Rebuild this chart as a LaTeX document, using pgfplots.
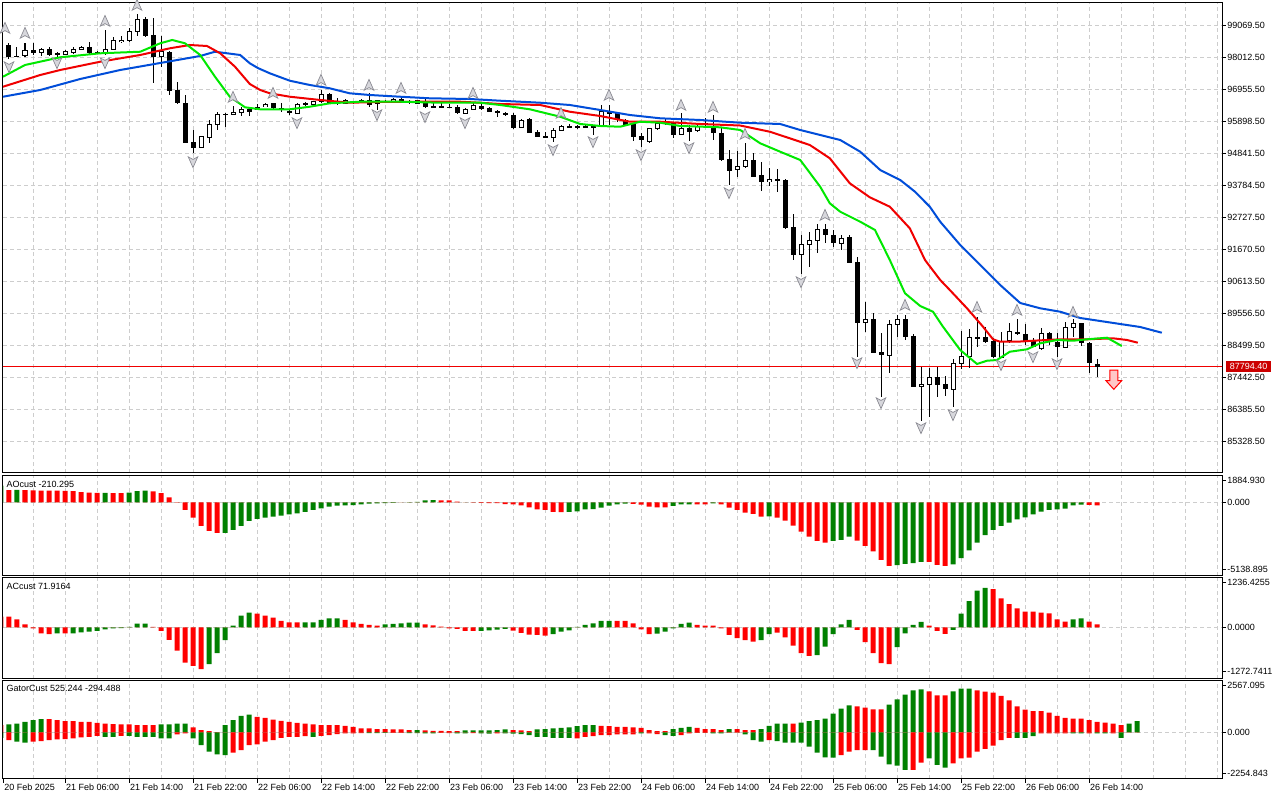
\documentclass[border=0pt]{standalone}
\usepackage{fontspec}
\setmainfont{Liberation Sans}
\usepackage{pgfplots}
\pgfplotsset{compat=1.18}
\usepackage{pgfplotstable}

\definecolor{mtgreen}{RGB}{0,128,0}
\definecolor{mtred}{RGB}{255,0,0}
\definecolor{jaw}{RGB}{0,77,217}
\definecolor{teeth}{RGB}{240,0,0}
\definecolor{lips}{RGB}{0,232,0}
\definecolor{gridc}{RGB}{205,205,205}
\definecolor{pricebox}{RGB}{204,0,0}
\definecolor{fractfill}{RGB}{215,215,220}
\definecolor{fractdraw}{RGB}{140,140,148}
\newcommand\tl{\fontsize{4.5pt}{5pt}\selectfont}

\pgfdeclareplotmark{fup}{%
 \pgfpathmoveto{\pgfpoint{0pt}{2.8pt}}%
 \pgfpathlineto{\pgfpoint{2.4pt}{-2.6pt}}%
 \pgfpathlineto{\pgfpoint{0pt}{-1.3pt}}%
 \pgfpathlineto{\pgfpoint{-2.4pt}{-2.6pt}}%
 \pgfpathclose\pgfusepathqfillstroke}
\pgfdeclareplotmark{fdown}{%
 \pgfpathmoveto{\pgfpoint{0pt}{-2.8pt}}%
 \pgfpathlineto{\pgfpoint{2.4pt}{2.6pt}}%
 \pgfpathlineto{\pgfpoint{0pt}{1.3pt}}%
 \pgfpathlineto{\pgfpoint{-2.4pt}{2.6pt}}%
 \pgfpathclose\pgfusepathqfillstroke}
\pgfdeclareplotmark{bigdown}{%
 \pgfpathmoveto{\pgfpoint{-2pt}{5pt}}%
 \pgfpathlineto{\pgfpoint{2pt}{5pt}}%
 \pgfpathlineto{\pgfpoint{2pt}{-0.35pt}}%
 \pgfpathlineto{\pgfpoint{3.9pt}{-0.35pt}}%
 \pgfpathlineto{\pgfpoint{0pt}{-4.65pt}}%
 \pgfpathlineto{\pgfpoint{-3.9pt}{-0.35pt}}%
 \pgfpathlineto{\pgfpoint{-2pt}{-0.35pt}}%
 \pgfpathclose\pgfusepathqfillstroke}

\pgfplotstableread{
i o h l c
0 98409 98574 98079 98178
1 98409 98475 97947 98023
2 98062 98343 98013 98030
4 98244 98475 98079 98155
6 98277 98353 98046 98079
7 98145 98188 98023 98079
11 98333 98518 98079 98135
12 98188 98211 98112 98135
18 99267 99343 98683 98716
19 98739 99290 97145 98023
21 98188 98211 96759 96901
22 96924 97198 96470 96485
23 96485 96759 95165 95185
24 95218 95604 94835 95000
31 96287 96373 96066 96208
34 96485 96505 96264 96320
35 96320 96485 96208 96264
36 96241 96287 96099 96155
38 96485 96528 96396 96429
41 96792 96825 96485 96505
42 96538 96650 96429 96485
44 96538 96571 96462 96505
46 96594 96815 96373 96429
48 96571 96594 96485 96528
50 96617 96650 96485 96538
51 96571 96594 96462 96505
53 96571 96617 96320 96373
54 96396 96485 96320 96353
55 96379 96485 96320 96363
56 96373 96462 96320 96353
57 96373 96429 96132 96155
60 96396 96462 96264 96287
61 96340 96373 96188 96208
62 96241 96264 96023 96155
63 96175 96208 96066 96099
64 96099 96155 95637 95660
66 95957 95990 95495 95515
67 95548 95604 95363 95383
68 95396 95548 95363 95383
72 95736 95769 95637 95660
73 95726 95769 95693 95713
74 95726 95746 95439 95713
76 96208 96429 95769 96155
77 96155 96208 95878 95934
78 95934 95967 95746 95769
79 95802 95825 95251 95383
80 95406 95495 95053 95274
84 95825 95878 95330 95439
86 95660 95769 95241 95548
89 95660 96099 95274 95515
90 95495 95713 94597 94614
91 94637 94944 93789 94261
94 94614 94835 94053 94063
95 94119 94558 93601 93898
97 93977 94307 93568 93931
98 93954 93977 92354 92360
99 92393 92832 91314 91479
103 92337 92502 91885 92139
104 92139 92304 91753 91865
106 92063 92139 91205 91225
107 91258 91423 88123 89245
109 89357 89555 88235 88255
110 88278 88895 86803 88169
113 89357 89499 88674 88783
114 88806 88872 87113 87133
117 87443 87794 86783 87189
118 87222 87486 86826 87047
123 88763 89113 88565 88618
124 88651 88730 88070 88103
127 88948 89357 88839 88862
128 88872 89202 88509 88651
129 88674 88730 88433 88453
131 88895 88948 88509 88674
132 88618 88895 88123 88433
135 89225 89245 88476 88565
136 88585 88618 87574 87905
137 87882 88037 87443 87794
}\bear

\pgfplotstableread{
i o h l c
3 98079 98475 98023 98244
5 98155 98300 98046 98267
8 98102 98244 98079 98188
9 98155 98353 98102 98267
10 98267 98376 98244 98333
13 98135 98904 98079 98267
14 98267 98663 98244 98574
15 98518 98706 98465 98574
16 98574 98960 98518 98848
17 98848 99432 98706 99267
20 98046 98706 97693 98188
25 95020 95406 95000 95383
26 95363 95934 95185 95792
27 95792 96208 95604 96132
28 96115 96155 95713 96132
29 96122 96396 96099 96198
30 96188 96373 96066 96297
32 96287 96462 96264 96353
33 96373 96485 96353 96452
37 96155 96485 96132 96462
39 96462 96571 96429 96538
40 96538 96924 96485 96792
43 96485 96627 96462 96571
45 96505 96627 96485 96594
47 96485 96594 96264 96571
49 96538 96650 96505 96617
52 96485 96594 96462 96571
58 96155 96330 96132 96287
59 96287 96505 96264 96429
65 95693 95957 95660 95934
69 95363 95660 95218 95604
70 95604 95769 95581 95713
71 95703 95802 95693 95713
75 95713 96429 95700 96208
81 95218 95680 95185 95660
82 95660 95878 95604 95825
83 95825 95990 95769 95878
85 95472 96155 95439 95660
87 95581 95802 95548 95713
88 95786 95990 95736 95819
92 94307 94921 94063 94416
93 94393 95165 94340 94614
96 93898 94340 93766 93977
100 91512 92139 90852 91842
101 91842 92248 91093 91974
102 91974 92502 91535 92327
105 91865 92139 91644 92030
108 89245 89938 88948 89357
111 88169 89334 87574 89202
112 89202 89499 88783 89357
115 87133 87783 86011 87222
116 87222 87750 86143 87443
119 87047 88037 86453 87905
120 87905 88981 87707 88146
121 88146 89037 87750 88763
122 88750 89443 88453 88763
125 88103 88948 88070 88641
126 88651 89225 88565 88948
130 88400 89060 88344 88895
133 88433 89278 88400 89093
134 89093 89357 88783 89225
}\bull

\pgfplotstableread{
i p
0.25 96703
4.9 96925
9.9 97288
14.9 97585
19.9 97816
24.9 98047
26.75 98188
29.9 98080
31.1 97806
32.1 97651
33.6 97476
36.1 97231
38.6 97090
41.1 96981
43.6 96816
46.1 96760
49.9 96703
53.6 96651
58.6 96628
62.4 96571
67.4 96505
71.1 96430
74.9 96265
78.6 96100
82.4 95991
87.4 95935
92.4 95845
97.4 95803
99.9 95605
102.4 95440
104.9 95275
107.4 94888
109.9 94285
112.4 93955
114.25 93568
116.1 93073
117.4 92578
119.9 91810
122.4 91150
124.9 90490
127.4 89896
129.9 89721
132.4 89608
134.9 89401
137.4 89302
139.9 89203
142.4 89104
145.1 88915
}\jawtab

\pgfplotstableread{
i p
0.25 97033
4.9 97420
7.4 97585
12.4 97858
17.4 98080
21.1 98301
23.6 98410
25.75 98377
27.4 98136
29.25 97693
31.1 97123
32.4 96925
33.6 96816
36.1 96703
39.9 96595
43.6 96505
47.4 96529
52.4 96538
57.4 96538
59.9 96505
62.4 96463
67.4 96430
71.1 96208
74.9 96067
78.6 95878
82.4 95878
87.4 95803
92.4 95753
96.1 95548
98.6 95331
101.1 95110
103.6 94671
106.1 93846
108.6 93384
111.1 93073
113.6 92361
115.5 91315
117.4 90655
118.6 90325
120.75 89721
122.75 89113
124 88698
124.9 88618
127 88618
129 88651
132.4 88698
135.75 88698
139 88731
140.75 88675
142.1 88585
}\teethtab

\pgfplotstableread{
i p
0.25 97363
3 97750
7.4 98004
12.4 98136
17.4 98188
19.9 98466
21.4 98575
23 98466
24.9 98080
26.75 97363
28.6 96703
30.5 96354
32.4 96288
36.1 96288
38.6 96373
41.1 96486
44.9 96538
49.9 96538
54.9 96505
59.9 96505
62.4 96430
66.1 96288
69.9 96043
72.4 95803
74.9 95737
77.4 95713
79.9 95878
82.4 95845
84.9 95737
89.9 95694
92.4 95605
94.9 95166
97.4 94888
99.9 94615
102.4 93733
103.6 93186
104.9 92908
107.4 92578
109.25 92305
111.1 91315
113 90216
114.9 89797
116.5 89608
117.75 89113
119.9 88345
122 87883
123.25 87991
124.5 88015
126.1 88288
128.25 88368
129.9 88566
132 88675
134 88651
135.75 88698
138.25 88750
140.1 88477
}\lipstab

\pgfplotstableread{
i p
0.5 98970
3 98805
13 99201
17 99729
29 96693
34 96825
40 97254
46 97089
50 96990
59 96825
70 96165
76 96759
85 96429
89 96363
93 95472
103 92799
113 89829
122 89763
127 89664
134 89598
}\fractup

\pgfplotstableread{
i p
1 97683
7 97815
13 97815
24 94548
37 95835
47 96099
53 96033
58 95835
69 94944
74 95208
80 94779
86 95010
91 93525
100 90588
107 87915
110 86595
115 85770
119 86199
125 87849
129 88113
132 87882
}\fractdn

\pgfplotstableread{
i g r
0 1166 0
1 0 862
2 870 0
3 0 850
4 0 840
5 0 830
6 0 820
7 0 815
8 0 810
9 0 792
10 0 723
11 0 676
12 0 660
13 670 0
14 0 655
15 0 645
16 676 0
17 792 0
18 816 0
19 0 770
20 0 653
21 0 350
22 0 20
23 0 -536
24 0 -1072
25 0 -1655
26 0 -2005
27 0 -2145
28 -2140 0
29 -1935 0
30 -1655 0
31 -1306 0
32 -1166 0
33 -1072 0
34 -1003 0
35 -933 0
36 -839 0
37 -769 0
38 -676 0
39 -536 0
40 -420 0
41 -303 0
42 -233 0
43 -210 0
44 -187 0
45 -140 0
46 -93 0
47 -70 0
48 -47 0
49 -30 0
50 -10 0
51 10 0
52 40 0
53 140 0
54 150 0
55 0 140
56 0 130
57 0 50
58 0 -5
59 0 -20
60 0 -30
61 0 -50
62 0 -60
63 0 -120
64 0 -150
65 0 -210
66 0 -350
67 0 -490
68 0 -536
69 0 -676
70 0 -690
71 -676 0
72 -630 0
73 -490 0
74 -480 0
75 -373 0
76 -233 0
77 -140 0
78 -90 0
79 0 -110
80 0 -163
81 0 -303
82 0 -350
83 0 -360
84 -256 0
85 -140 0
86 -135 0
87 0 -140
88 0 -145
89 -70 0
90 0 -140
91 0 -373
92 0 -536
93 0 -723
94 0 -816
95 0 -1002
96 -990 0
97 0 -1072
98 0 -1282
99 0 -1632
100 0 -2052
101 0 -2402
102 0 -2705
103 0 -2821
104 -2705 0
105 -2635 0
106 -2402 0
107 0 -2682
108 0 -3055
109 0 -3452
110 0 -4035
111 0 -4455
112 -4410 0
113 -4317 0
114 -4270 0
115 -4177 0
116 0 -4180
117 0 -4386
118 0 -4456
119 -4363 0
120 -3920 0
121 -3382 0
122 -2822 0
123 -2310 0
124 -1935 0
125 -1655 0
126 -1422 0
127 -1189 0
128 -1049 0
129 -839 0
130 -653 0
131 -536 0
132 -490 0
133 -443 0
134 -210 0
135 -163 0
136 0 -180
137 0 -210
}\aotab

\pgfplotstableread{
i g r
0 0 264
1 0 264
2 0 198
3 0 74
4 0 -25
5 0 -149
6 0 -173
7 -149 0
8 0 -149
9 -149 0
10 -124 0
11 -107 0
12 -91 0
13 -50 0
14 -25 0
15 -20 0
16 8 0
17 91 0
18 91 0
19 0 8
20 0 -91
21 0 -314
22 0 -578
23 0 -880
24 0 -957
25 0 -1040
26 -916 0
27 -644 0
28 -322 0
29 41 0
30 289 0
31 363 0
32 0 338
33 0 289
34 0 239
35 0 157
36 0 124
37 0 124
38 124 0
39 124 0
40 182 0
41 223 0
42 223 0
43 0 182
44 0 124
45 0 83
46 0 58
47 0 41
48 74 0
49 83 0
50 99 0
51 116 0
52 116 0
53 0 74
54 0 50
55 0 17
56 0 -25
57 0 -41
58 0 -91
59 0 -91
60 -91 0
61 -75 0
62 -58 0
63 -41 0
64 0 -80
65 0 -140
66 0 -182
67 0 -190
68 0 -206
69 -173 0
70 -107 0
71 -74 0
72 8 0
73 58 0
74 99 0
75 157 0
76 157 0
77 0 157
78 0 157
79 0 99
80 0 -50
81 0 -173
82 -157 0
83 -107 0
84 -25 0
85 83 0
86 116 0
87 0 58
88 0 41
89 0 41
90 0 -25
91 0 -190
92 0 -272
93 0 -322
94 0 -355
95 -322 0
96 -173 0
97 0 -132
98 0 -248
99 0 -454
100 0 -644
101 0 -710
102 -693 0
103 -479 0
104 -173 0
105 74 0
106 182 0
107 0 -66
108 0 -371
109 0 -644
110 0 -891
111 0 -916
112 -495 0
113 -149 0
114 58 0
115 132 0
116 0 41
117 0 -91
118 0 -165
119 -66 0
120 338 0
121 652 0
122 908 0
123 982 0
124 0 949
125 0 718
126 0 578
127 0 470
128 0 388
129 0 388
130 0 363
131 0 347
132 0 198
133 0 140
134 198 0
135 223 0
136 0 140
137 0 72
}\actab

\pgfplotstableread{
i ug ur lg lr
0 0 357 -260 0
1 390 0 0 -373
2 438 0 -454 0
3 519 0 -503 0
4 600 0 0 -454
5 649 0 0 -422
6 0 649 0 -373
7 0 600 0 -341
8 0 552 0 -325
9 0 552 0 -292
10 0 519 0 -243
11 0 519 0 -211
12 0 471 0 -162
13 0 438 -211 0
14 0 406 -211 0
15 0 390 0 -162
16 0 390 -162 0
17 0 357 -211 0
18 0 357 -211 0
19 0 357 -211 0
20 390 0 -292 0
21 390 0 -292 0
22 438 0 0 -97
23 438 0 0 -49
24 0 243 -292 0
25 0 114 -617 0
26 0 65 -941 0
27 0 20 -1071 0
28 357 0 -1104 0
29 600 0 0 -990
30 811 0 0 -860
31 876 0 0 -617
32 0 763 0 -584
33 0 714 0 -454
34 0 633 0 -373
35 0 568 0 -260
36 0 519 0 -211
37 0 471 0 -211
38 0 438 0 -178
39 0 390 -211 0
40 0 357 0 -162
41 0 357 0 -130
42 0 357 0 -81
43 0 325 0 -49
44 0 276 0 -49
45 0 195 0 -30
46 0 195 -30 0
47 0 162 -30 0
48 0 162 -20 0
49 0 146 0 -20
50 0 146 0 -20
51 0 114 -30 0
52 114 0 -30 0
53 0 100 -40 0
54 0 81 -40 0
55 0 81 0 -20
56 0 65 0 -30
57 0 65 -40 0
58 97 0 -40 0
59 97 0 0 -30
60 97 0 -50 0
61 97 0 -60 0
62 114 0 0 -40
63 146 0 -49 0
64 0 114 -60 0
65 0 97 -80 0
66 0 65 -130 0
67 146 0 -211 0
68 162 0 -211 0
69 195 0 -260 0
70 227 0 -260 0
71 243 0 -260 0
72 308 0 0 -292
73 357 0 0 -211
74 357 0 0 -178
75 0 325 0 -130
76 0 308 0 -130
77 0 276 0 -97
78 0 276 0 -97
79 0 250 0 -97
80 0 227 -49 0
81 0 114 0 -49
82 0 65 0 -81
83 0 65 -130 0
84 162 0 -162 0
85 227 0 0 -130
86 276 0 0 -49
87 0 227 0 -16
88 0 162 0 -16
89 0 162 -49 0
90 0 114 -49 0
91 162 0 0 -10
92 0 162 0 -10
93 0 114 -97 0
94 0 114 -373 0
95 162 0 -454 0
96 325 0 0 -373
97 438 0 -422 0
98 438 0 -503 0
99 0 438 -503 0
100 487 0 -503 0
101 552 0 -698 0
102 600 0 -990 0
103 682 0 -1217 0
104 925 0 -1233 0
105 1169 0 0 -1104
106 1331 0 0 -941
107 0 1282 0 -860
108 0 1217 0 -860
109 0 1136 -860 0
110 0 1136 -1185 0
111 1363 0 -1558 0
112 1623 0 -1623 0
113 1850 0 -1834 0
114 2061 0 0 -1834
115 2110 0 0 -1477
116 0 2013 -1266 0
117 0 1818 -1590 0
118 0 1818 -1720 0
119 2013 0 0 -1509
120 2142 0 0 -1266
121 2142 0 0 -1233
122 0 2061 0 -941
123 0 2000 0 -800
124 0 1948 0 -649
125 0 1785 0 -373
126 0 1574 0 -260
127 0 1282 -260 0
128 0 1120 -260 0
129 0 1039 -178 0
130 0 1039 0 -49
131 0 974 0 -49
132 0 811 0 -49
133 0 714 0 -49
134 0 682 -49 0
135 0 682 -49 0
136 0 600 0 -49
137 0 519 -49 0
138 0 487 -49 0
139 0 438 0 -49
140 0 357 -260 0
141 438 0 0 0
142 552 0 0 0
}\gatortab

\pgfplotsset{
  mt/.style={
    scale only axis, width=609.5pt,
    xmin=0.25, xmax=152.625,
    axis line style={line width=0.5pt, black},
    xtick={4,8,...,152}, xticklabels={},
    xmajorgrids,
    major grid style={draw=gridc, line width=0.5pt, dash pattern=on 2pt off 1.5pt},
    tick align=outside,
    major tick length=2pt,
    xtick style={draw=none},
    ytick style={draw=black, line width=0.5pt},
    ytick pos=right, yticklabel pos=right,
    xtick pos=bottom,
    yticklabel style={anchor=west, inner xsep=0.5pt, inner ysep=0pt, font=\tl},
    xticklabel style={font=\tl},
    scaled y ticks=false,
  },
  wick/.style={draw=none, mark=none, forget plot,
    error bars/.cd, y dir=both, y explicit, error mark=none,
    error bar style={draw=black, line width=0.5pt, solid}},
  body/.style 2 args={draw=none, mark=none, forget plot,
    error bars/.cd, y dir=both, y explicit, error mark=none,
    error bar style={draw=#1, line width=#2, solid, line cap=butt}},
  gbar/.style={ybar, bar width=2.5pt, bar shift=0pt, draw=none, fill=#1, forget plot},
}

\begin{document}
\begin{tikzpicture}
\path[use as bounding box, fill=white] (0,0) rectangle (640pt,-400pt);

% ---------------- main price panel ----------------
\begin{axis}[mt, at={(1.5pt,-1.25pt)}, anchor=north west, height=235pt,
  ymin=84302, ymax=99812,
  ytick={85328.5,86385.5,87442.5,88499.5,89556.5,90613.5,91670.5,92727.5,93784.5,94841.5,95898.5,96955.5,98012.5,99069.5},
  yticklabels={85328.50,86385.50,87442.50,88499.50,89556.50,90613.50,91670.50,92727.50,93784.50,94841.50,95898.50,96955.50,98012.50,99069.50},
  ymajorgrids,
  extra y ticks={87794.4}, extra y tick labels={87794.40},
  extra y tick style={grid=none, ytick style={draw=none},
    yticklabel style={fill=pricebox, text=white, inner xsep=1.7pt, inner ysep=1pt}},
]
\addplot[teeth, line width=0.5pt, forget plot] coordinates {(0,87794.4) (153,87794.4)};
% wicks
\addplot[wick] table[x=i, y expr={(\thisrow{h}+\thisrow{l})/2}, y error expr={(\thisrow{h}-\thisrow{l})/2}] {\bear};
\addplot[wick] table[x=i, y expr={(\thisrow{h}+\thisrow{l})/2}, y error expr={(\thisrow{h}-\thisrow{l})/2}] {\bull};
% bodies
\addplot[body={black}{2.5pt}] table[x=i, y expr={(\thisrow{o}+\thisrow{c})/2}, y error expr={max(abs(\thisrow{o}-\thisrow{c})/2,16.5)}] {\bear};
\addplot[body={black}{2.5pt}] table[x=i, y expr={(\thisrow{o}+\thisrow{c})/2}, y error expr={max(abs(\thisrow{o}-\thisrow{c})/2,8)+16.5}] {\bull};
\addplot[body={white}{1.5pt}] table[x=i, y expr={(\thisrow{o}+\thisrow{c})/2}, y error expr={max(abs(\thisrow{o}-\thisrow{c})/2-16.5,0)}] {\bull};
% alligator
\addplot[jaw, line width=1pt, mark=none] table[x=i, y=p] {\jawtab};
\addplot[teeth, line width=1pt, mark=none] table[x=i, y=p] {\teethtab};
\addplot[lips, line width=1pt, mark=none] table[x=i, y=p] {\lipstab};
% fractals
\addplot[only marks, mark=fup, mark options={fill=fractfill, draw=fractdraw, line width=0.35pt}] table[x=i, y=p] {\fractup};
\addplot[only marks, mark=fdown, mark options={fill=fractfill, draw=fractdraw, line width=0.35pt}] table[x=i, y=p] {\fractdn};
% signal arrow
\addplot[only marks, mark=bigdown, mark options={fill=red!22, draw=red, line width=0.5pt}] coordinates {(139.1,87354)};
\end{axis}

% ---------------- AO ----------------
\begin{axis}[mt, at={(1.5pt,-237.75pt)}, anchor=north west, height=50pt,
  ymin=-5138.895, ymax=1884.93,
  ytick={0}, yticklabels={0.000}, ymajorgrids,
  extra y ticks={-4691,1507}, extra y tick labels={-5138.895,1884.930},
  extra y tick style={grid=none},
]
\addplot[gbar=mtgreen] table[x=i, y=g] {\aotab};
\addplot[gbar=mtred] table[x=i, y=r] {\aotab};
\node[anchor=west, inner sep=0pt, font=\tl] at (rel axis cs:0,1) [xshift=1.6pt, yshift=-4.5pt] {AOcust -210.295};
\end{axis}

% ---------------- AC ----------------
\begin{axis}[mt, at={(1.5pt,-288.75pt)}, anchor=north west, height=50.5pt,
  ymin=-1272.7411, ymax=1236.4255,
  ytick={0}, yticklabels={0.0000}, ymajorgrids,
  extra y ticks={-1089.6,1102.8}, extra y tick labels={-1272.7411,1236.4255},
  extra y tick style={grid=none},
]
\addplot[gbar=mtgreen] table[x=i, y=g] {\actab};
\addplot[gbar=mtred] table[x=i, y=r] {\actab};
\node[anchor=west, inner sep=0pt, font=\tl] at (rel axis cs:0,1) [xshift=1.6pt, yshift=-4.6pt] {ACcust 71.9164};
\end{axis}

% ---------------- Gator ----------------
\begin{axis}[mt, at={(1.5pt,-340pt)}, anchor=north west, height=49.25pt,
  ymin=-2254.843, ymax=2567.095,
  ytick={0}, yticklabels={0.000}, ymajorgrids,
  extra y ticks={-2026,2309}, extra y tick labels={-2254.843,2567.095},
  extra y tick style={grid=none},
  extra x ticks={0.3,8,16,24,32,40,48,56,64,72,80,88,96,104,112,120,128,136},
  extra x tick labels={20 Feb 2025,21 Feb 06:00,21 Feb 14:00,21 Feb 22:00,22 Feb 06:00,22 Feb 14:00,22 Feb 22:00,23 Feb 06:00,23 Feb 14:00,23 Feb 22:00,24 Feb 06:00,24 Feb 14:00,24 Feb 22:00,25 Feb 06:00,25 Feb 14:00,25 Feb 22:00,26 Feb 06:00,26 Feb 14:00},
  extra x tick style={grid=none, xtick style={draw=black, line width=0.5pt},
    xticklabel style={anchor=north west, inner sep=0pt, xshift=0.3pt, yshift=-0.6pt, font=\tl}},
]
\addplot[gbar=mtgreen] table[x=i, y=ug] {\gatortab};
\addplot[gbar=mtred] table[x=i, y=ur] {\gatortab};
\addplot[gbar=mtgreen] table[x=i, y=lg] {\gatortab};
\addplot[gbar=mtred] table[x=i, y=lr] {\gatortab};
\node[anchor=west, inner sep=0pt, font=\tl] at (rel axis cs:0,1) [xshift=1.6pt, yshift=-4.3pt] {GatorCust 525.244 -294.488};
\end{axis}
\end{tikzpicture}
\end{document}
